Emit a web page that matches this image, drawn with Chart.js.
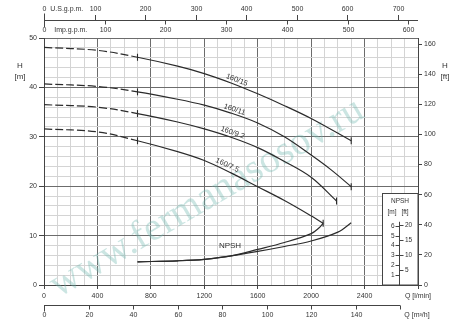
<!DOCTYPE html>
<html>
<head>
<meta charset="utf-8">
<script src="https://cdn.jsdelivr.net/npm/chart.js@4.4.0/dist/chart.umd.min.js"></script>
<style>
  html, body { margin: 0; padding: 0; background: #fff; }
  #wrap { width: 450px; height: 321px; }
</style>
</head>
<body>
<div id="wrap"><canvas id="pumpChart" width="450" height="321"></canvas></div>
<script>
// pump curves, Q in l/min, H in m
const q160_15 = [0, 400, 700, 1000, 1200, 1400, 1600, 1800, 2000, 2300];
const h160_15 = [48.1, 47.5, 46.1, 44.3, 42.8, 40.9, 38.7, 36.3, 33.7, 29.2];
const q160_11 = [0, 400, 700, 1000, 1200, 1400, 1600, 1800, 2000, 2150, 2300];
const h160_11 = [40.7, 40.2, 39.1, 37.6, 36.4, 34.8, 32.8, 30.0, 26.3, 23.3, 19.9];
const q160_92 = [0, 400, 700, 1000, 1200, 1400, 1600, 1800, 2000, 2190];
const h160_92 = [36.5, 36.0, 34.7, 33.0, 31.6, 29.9, 27.8, 25.0, 21.8, 17.0];
const q160_75 = [0, 400, 700, 1000, 1200, 1400, 1600, 1800, 2000, 2090];
const h160_75 = [31.6, 31.0, 29.2, 27.0, 25.2, 22.7, 19.9, 17.1, 14.0, 12.5];
const curveNames = ['160/15', '160/11', '160/9.2', '160/7.5'];

// NPSH curves (m)
const qNpshLong = [700, 1000, 1200, 1400, 1600, 1800, 2000, 2200, 2300];
const npshLong = [2.35, 2.45, 2.6, 2.95, 3.4, 3.9, 4.45, 5.35, 6.3];
const qNpshShort = [700, 1000, 1200, 1400, 1600, 1800, 2000, 2060, 2090];
const npshShort = [2.35, 2.45, 2.6, 2.95, 3.6, 4.3, 5.2, 5.8, 6.25];

// tick labels of the extra axes
const usGpmTicks = [0, 100, 200, 300, 400, 500, 600, 700];
const impGpmTicks = [0, 100, 200, 300, 400, 500, 600];
const m3hTicks = [0, 20, 40, 60, 80, 100, 120, 140, 160];
const npshMTicks = [1, 2, 3, 4, 5, 6];
const npshFtTicks = [5, 10, 15, 20];

const Q_MAX = 2800;
const H_MAX = 50;
const FT_PER_M = 3.28084;
const FONT = "'Liberation Sans', Arial, sans-serif";
const INK = '#2b2b2b';
const MAJOR = '#6c6c6c';
const MINOR = '#d4d4d4';

const toPts = (qs, hs) => qs.map((q, i) => ({ x: q, y: hs[i] }));

const pumpDataset = (qs, hs) => ({
    data: toPts(qs, hs),
    borderColor: INK,
    borderWidth: 1.2,
    tension: 0.35,
    segment: {
        borderDash: c => (c.p1.parsed.x <= 700 ? [8, 3] : undefined) // shut-off part is dashed
    },
    pointStyle: 'line',
    rotation: 90,
    pointBorderColor: INK,
    pointBorderWidth: 1.1,
    pointRadius: c => (c.raw && (c.raw.x === 700 || c.dataIndex === c.dataset.data.length - 1)) ? 3.5 : 0,
    pointHoverRadius: 0
});

const npshDataset = (qs, ns) => ({
    data: toPts(qs, ns),
    yAxisID: 'yN',
    borderColor: INK,
    borderWidth: 1.2,
    tension: 0.35,
    pointRadius: 0
});

const pumpSets = [
    [q160_15, h160_15], [q160_11, h160_11], [q160_92, h160_92], [q160_75, h160_75]
];

// point on a curve in pixels (linear between data points)
function curvePixel(chart, qs, hs, q) {
    let i = 0;
    while (i < qs.length - 2 && qs[i + 1] < q) i++;
    const t = (q - qs[i]) / (qs[i + 1] - qs[i]);
    const h = hs[i] + t * (hs[i + 1] - hs[i]);
    return { x: chart.scales.x.getPixelForValue(q), y: chart.scales.y.getPixelForValue(h) };
}

const extrasPlugin = {
    id: 'extras',
    beforeDatasetsDraw(chart) {
        const ctx = chart.ctx;
        // watermark
        ctx.save();
        ctx.translate(207, 198);
        ctx.rotate(-30.5 * Math.PI / 180);
        ctx.font = "40px 'Liberation Serif', 'DejaVu Serif', serif";
        ctx.fillStyle = 'rgba(110, 182, 176, 0.36)';
        ctx.textAlign = 'center';
        ctx.textBaseline = 'middle';
        ctx.fillText('www.fermanasosov.ru', 0, 0);
        ctx.restore();
    },
    afterDraw(chart) {
        const ctx = chart.ctx;
        const { x, y, x2, x3, x4, yN } = chart.scales;
        const line = (ax, ay, bx, by) => { ctx.beginPath(); ctx.moveTo(ax, ay); ctx.lineTo(bx, by); ctx.stroke(); };
        const snap = v => Math.round(v) + 0.5;

        ctx.save();
        ctx.strokeStyle = '#444';
        ctx.lineWidth = 1;
        ctx.fillStyle = '#333';
        ctx.font = '7px ' + FONT;
        ctx.textAlign = 'center';
        ctx.textBaseline = 'middle';

        // top: U.S. gpm above the line, Imp gpm below it
        const topY = 20.5;
        line(x.left, topY, x.right, topY);
        usGpmTicks.forEach(v => {
            const px = snap(x2.getPixelForValue(v));
            line(px, v === 0 ? 13.5 : 15, px, topY);
            ctx.fillText(String(v), px, 9);
        });
        impGpmTicks.forEach(v => {
            const px = snap(x3.getPixelForValue(v));
            line(px, topY, px, v === 0 ? 27 : 24.5);
            ctx.fillText(String(v), px, 30.5);
        });
        ctx.fillText('U.S.g.p.m.', x2.getPixelForValue(45), 9);
        ctx.fillText('Imp.g.p.m.', x3.getPixelForValue(44), 30.5);

        // bottom: m3/h
        const botY = 305.5;
        line(x.left, botY, x4.getPixelForValue(160), botY);
        m3hTicks.forEach(v => {
            const px = snap(x4.getPixelForValue(v));
            line(px, botY, px, v === 0 ? botY + 6 : botY + 4);
            if (v < 160) ctx.fillText(String(v), px, 315.5);
        });
        ctx.fillText('Q [m\u00b3/h]', x.right - 1, 315.5);

        // axis titles
        ctx.font = '8px ' + FONT;
        ctx.fillText('H', 20, 66);
        ctx.fillText('[m]', 20, 77);
        ctx.fillText('H', 445, 66);
        ctx.fillText('[ft]', 445, 77);

        // curve names along the curves
        const labelQ = [1430, 1415, 1400, 1355];
        const labelLift = [5, 4.5, 5, 5.5];
        ctx.font = '7.5px ' + FONT;
        pumpSets.forEach(([qs, hs], i) => {
            const a = curvePixel(chart, qs, hs, labelQ[i] - 60);
            const b = curvePixel(chart, qs, hs, labelQ[i] + 60);
            const c = curvePixel(chart, qs, hs, labelQ[i]);
            const ang = Math.atan2(b.y - a.y, b.x - a.x);
            ctx.save();
            ctx.translate(c.x, c.y);
            ctx.rotate(ang);
            ctx.fillText(curveNames[i], 0, -labelLift[i]);
            ctx.restore();
        });
        ctx.font = '8px ' + FONT;
        ctx.fillText('NPSH', 230, 246);

        // NPSH scale box
        const bx = 382.5, by = 193.5;
        ctx.fillStyle = '#fff';
        ctx.fillRect(bx, by, x.right - bx, y.bottom - by);
        ctx.strokeRect(bx, by, x.right - bx, y.bottom - by);
        ctx.fillStyle = '#333';
        ctx.font = '6.5px ' + FONT;
        ctx.fillText('NPSH', 400, 201);
        ctx.fillText('[m]', 392, 212);
        ctx.fillText('[ft]', 405, 212);
        const ax = 399.5;
        line(ax, yN.getPixelForValue(6.4), ax, y.bottom);
        ctx.textAlign = 'right';
        npshMTicks.forEach(v => {
            const py = snap(yN.getPixelForValue(v));
            line(ax - 4, py, ax, py);
            ctx.fillText(String(v), ax - 5, py);
        });
        ctx.textAlign = 'left';
        npshFtTicks.forEach(v => {
            const py = snap(yN.getPixelForValue(v / FT_PER_M));
            line(ax, py, ax + 4, py);
            ctx.fillText(String(v), ax + 5.5, py);
        });
        ctx.restore();
    }
};

Chart.defaults.font.family = FONT;
Chart.defaults.font.size = 7;
Chart.defaults.color = '#333';

new Chart(document.getElementById('pumpChart'), {
    type: 'line',
    data: {
        datasets: [
            ...pumpSets.map(([qs, hs]) => pumpDataset(qs, hs)),
            npshDataset(qNpshLong, npshLong),
            npshDataset(qNpshShort, npshShort)
        ]
    },
    options: {
        responsive: false,
        devicePixelRatio: 1,
        animation: false,
        layout: { padding: { top: 38, left: 0, right: 0, bottom: 0 } },
        plugins: { legend: { display: false }, tooltip: { enabled: false } },
        scales: {
            x: {
                type: 'linear', position: 'bottom', min: 0, max: Q_MAX,
                ticks: {
                    stepSize: 100, autoSkip: false, maxRotation: 0, padding: 3,
                    callback: v => (v % 400 === 0 ? (v === Q_MAX ? 'Q [l/min]' : v) : '')
                },
                grid: {
                    color: c => (c.tick && c.tick.value % 400 === 0 ? MAJOR : MINOR),
                    tickColor: c => (c.tick && c.tick.value % 400 === 0 ? '#444' : 'rgba(0,0,0,0)'),
                    tickLength: 4
                },
                border: { color: '#444' },
                afterFit: s => { s.height = 36; }
            },
            y: {
                type: 'linear', position: 'left', min: 0, max: H_MAX,
                ticks: {
                    stepSize: 2, autoSkip: false, padding: 2, maxTicksLimit: 100,
                    callback: v => (v % 10 === 0 ? v : '')
                },
                grid: {
                    color: c => (c.tick && c.tick.value % 10 === 0 ? MAJOR : MINOR),
                    tickColor: c => (c.tick && c.tick.value % 10 === 0 ? '#444' : 'rgba(0,0,0,0)'),
                    tickLength: 5
                },
                border: { color: '#444' },
                afterFit: s => { s.width = 44; }
            },
            yft: {
                type: 'linear', position: 'right', min: 0, max: H_MAX * FT_PER_M,
                ticks: { stepSize: 20, includeBounds: false, padding: 2 },
                grid: { drawOnChartArea: false, tickLength: 4, color: '#444' },
                border: { color: '#444' },
                afterFit: s => { s.width = 32; }
            },
            x2: { type: 'linear', axis: 'x', position: 'top', display: false, min: 0, max: Q_MAX * 0.264172 },
            x3: { type: 'linear', axis: 'x', position: 'top', display: false, min: 0, max: Q_MAX * 0.219969 },
            x4: { type: 'linear', axis: 'x', position: 'bottom', display: false, min: 0, max: Q_MAX * 0.06 },
            yN: { type: 'linear', axis: 'y', position: 'left', display: false, min: 0, max: H_MAX / 2 }
        }
    },
    plugins: [extrasPlugin]
});
</script>
</body>
</html>
